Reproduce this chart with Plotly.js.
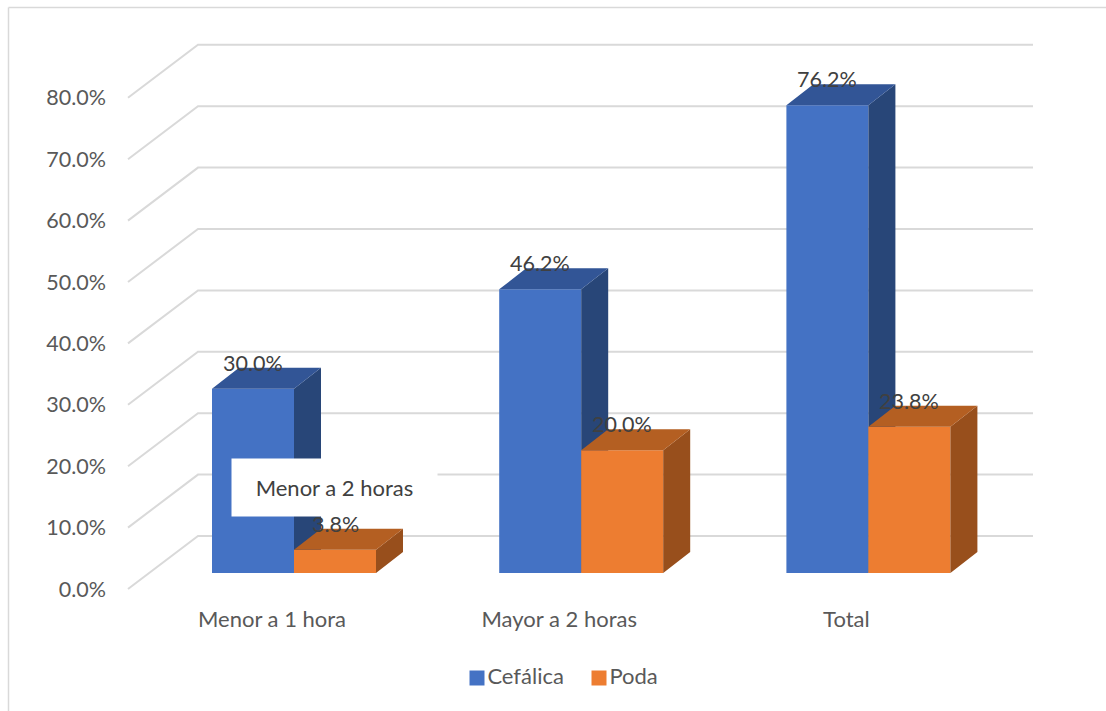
<!DOCTYPE html>
<html>
<head>
<meta charset="utf-8">
<script src="https://cdn.plot.ly/plotly-3.0.1.min.js"></script>
<style>html,body{margin:0;padding:0;background:#fff;overflow:hidden}</style>
</head>
<body>
<div id="chart" style="width:1106px;height:711px"></div>
<script>
// Values of the chart
const categories = ['Menor a 1 hora', 'Mayor a 2 horas', 'Total'];
const cefalica = [30.0, 46.2, 76.2];
const poda = [3.8, 20.0, 23.8];
const yTicks = [0, 10, 20, 30, 40, 50, 60, 70, 80];
const seriesNames = ['Cefálica', 'Poda'];
const floatingLabel = 'Menor a 2 horas';

// Canvas geometry: the x axis runs in canvas pixels, y axes share one scale
const W = 1106, H = 711;
const UNIT = 6.14;            // pixels per percentage point
const WALL_ZERO = 589;        // canvas row of 0 % on the labelled front edge of the wall
const BAR_ZERO = 573;         // canvas row of 0 % on the front of the bars
const rangeFor = zero => [(zero - H) / UNIT, zero / UNIT];
const rowOnBars = row => (BAR_ZERO - row) / UNIT;

const WALL_LEFT = 128, WALL_BACK = 198, WALL_RIGHT = 1033;
const WALL_RISE = 53 / UNIT;
const GROUP_FIRST = 294, GROUP_STEP = 287.2, BAR_W = 82;
const DEPTH_X = 27, DEPTH_Y = 21 / UNIT;

const groupX = categories.map((_, i) => GROUP_FIRST + i * GROUP_STEP);
const COLORS = {
  blue: {front: '#4472c4', top: '#325596', side: '#284678'},
  orange: {front: '#ed7d31', top: '#b45f22', side: '#984f1c'}
};
const GRID = '#d9d9d9';
const FONT = 'Lato, Carlito, sans-serif';
const TEXT_SIZE = 22;

// Polygons for the two visible extruded faces of a bar, separated by nulls
function sideFace(lefts, values) {
  const x = [], y = [];
  lefts.forEach((l, i) => {
    const r = l + BAR_W, v = values[i];
    x.push(r, r + DEPTH_X, r + DEPTH_X, r, r, null);
    y.push(v, v + DEPTH_Y, DEPTH_Y, 0, v, null);
  });
  return {x, y};
}
function topFace(lefts, values) {
  const x = [], y = [];
  lefts.forEach((l, i) => {
    const r = l + BAR_W, v = values[i];
    x.push(l, r, r + DEPTH_X, l + DEPTH_X, l, null);
    y.push(v, v, v + DEPTH_Y, v + DEPTH_Y, v, null);
  });
  return {x, y};
}
function face(poly, color, yaxis) {
  return {type: 'scatter', mode: 'lines', x: poly.x, y: poly.y, yaxis,
    fill: 'toself', fillcolor: color, line: {width: 0}, hoverinfo: 'skip', showlegend: false};
}
function series3d(name, values, lefts, palette, yaxis) {
  return [
    {type: 'bar', name, x: lefts.map(l => l + BAR_W / 2), y: values, width: BAR_W, yaxis,
      marker: {color: palette.front, line: {width: 0}}, showlegend: false},
    face(sideFace(lefts, values), palette.side, yaxis),
    face(topFace(lefts, values), palette.top, yaxis)
  ];
}

// Back wall: a diagonal on the side wall and a horizontal line on the back for each tick
const wallX = [], wallY = [];
yTicks.forEach(t => {
  wallX.push(WALL_LEFT, WALL_BACK, WALL_RIGHT, null);
  wallY.push(t, t + WALL_RISE, t + WALL_RISE, null);
});
const wall = {type: 'scatter', mode: 'lines', x: wallX, y: wallY, yaxis: 'y',
  line: {color: GRID, width: 2}, hoverinfo: 'skip', showlegend: false};

// Legend row, built from square markers with text beside them
const legendRow = {type: 'scatter', mode: 'markers+text', yaxis: 'y3',
  x: [477, 599], y: seriesNames.map(() => rowOnBars(678)), text: seriesNames,
  textposition: 'middle right', textfont: {family: FONT, size: TEXT_SIZE, color: '#595959'},
  marker: {symbol: 'square', size: 15, color: [COLORS.blue.front, COLORS.orange.front]},
  hoverinfo: 'skip', showlegend: false};

const traces = [
  wall,
  ...series3d(seriesNames[0], cefalica, groupX.map(x => x - BAR_W), COLORS.blue, 'y2'),
  ...series3d(seriesNames[1], poda, groupX, COLORS.orange, 'y3'),
  legendRow
];

// Value labels sit a fixed distance above each bar's front edge
const valueLabel = (x, v) => ({x, y: v, xref: 'x', yref: 'y2', yshift: 26, showarrow: false,
  text: v.toFixed(1) + '%', font: {family: FONT, size: TEXT_SIZE - 0.5, color: '#404040'}});

const annotations = [
  {x: 334 / W, y: 1 - 487 / H, xref: 'paper', yref: 'paper', xanchor: 'center', yanchor: 'middle',
    showarrow: false, text: floatingLabel, width: 203, height: 55, bgcolor: '#ffffff',
    font: {family: FONT, size: TEXT_SIZE, color: '#404040'}},
  ...cefalica.map((v, i) => valueLabel(groupX[i] - BAR_W / 2, v)),
  ...poda.map((v, i) => valueLabel(groupX[i] + BAR_W / 2, v))
];

const hiddenY = zero => ({range: rangeFor(zero), overlaying: 'y', visible: false, fixedrange: true});

const layout = {
  width: W, height: H,
  margin: {l: 0, r: 0, t: 0, b: 0},
  paper_bgcolor: '#ffffff', plot_bgcolor: 'rgba(0,0,0,0)',
  showlegend: false,
  font: {family: FONT},
  xaxis: {
    range: [0, W], anchor: 'free', position: 1 - 604 / H,
    tickmode: 'array', tickvals: groupX.map(x => x - 22), ticktext: categories,
    ticklen: 0, showgrid: false, zeroline: false, showline: false,
    tickfont: {family: FONT, size: TEXT_SIZE, color: '#595959'}
  },
  yaxis: {
    range: rangeFor(WALL_ZERO), anchor: 'free', position: 106 / W, side: 'left',
    tickmode: 'array', tickvals: yTicks, ticktext: yTicks.map(t => t.toFixed(1) + '%'),
    ticklen: 0, showgrid: false, zeroline: false, showline: false,
    tickfont: {family: FONT, size: TEXT_SIZE - 0.5, color: '#595959'}
  },
  yaxis2: hiddenY(BAR_ZERO),
  yaxis3: hiddenY(BAR_ZERO),
  annotations,
  // Frame of the chart area: left and top edges
  shapes: [
    {type: 'line', xref: 'paper', yref: 'paper', x0: 8.5 / W, x1: 8.5 / W, y0: 0, y1: 1 - 7.5 / H,
      line: {color: GRID, width: 1.5}},
    {type: 'line', xref: 'paper', yref: 'paper', x0: 8.5 / W, x1: 1, y0: 1 - 7.5 / H, y1: 1 - 7.5 / H,
      line: {color: GRID, width: 1.5}}
  ]
};

Plotly.newPlot('chart', traces, layout, {displayModeBar: false, staticPlot: true});
</script>
</body>
</html>
